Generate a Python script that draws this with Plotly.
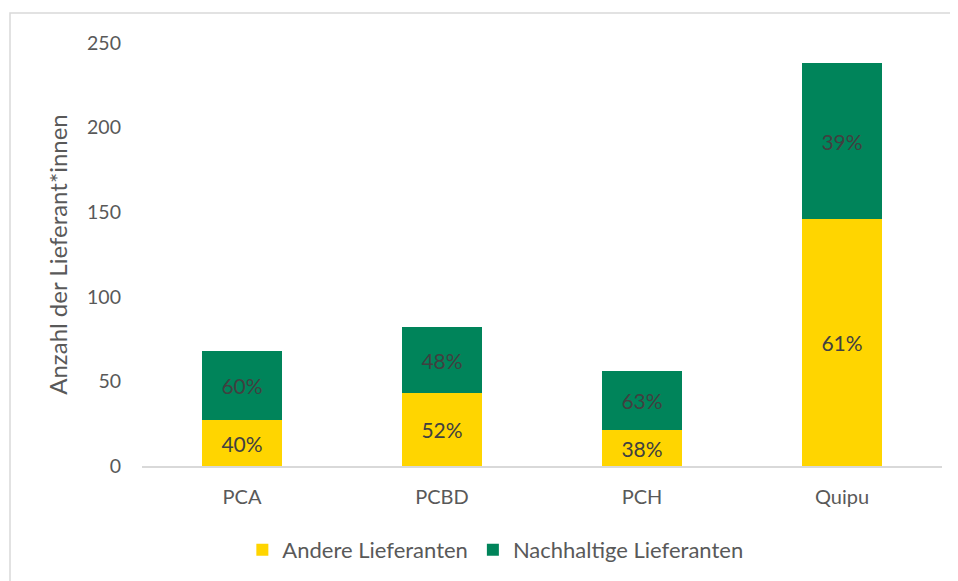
import plotly.graph_objects as go

categories = ["PCA", "PCBD", "PCH", "Quipu"]
andere = [27, 43, 21, 146]
nachhaltig = [41, 39, 35, 92]
andere_pct = ["40%", "52%", "38%", "61%"]
nachhaltig_pct = ["60%", "48%", "63%", "39%"]

FONT = "Lato"
GREY = "#595959"
LABEL = "#404040"

fig = go.Figure()
fig.add_trace(go.Bar(
    x=categories, y=andere, name="Andere Lieferanten",
    marker=dict(color="#FFD500", line=dict(width=0)),
    text=andere_pct, textposition="inside", insidetextanchor="middle",
    textfont=dict(color=LABEL, size=21, family=FONT),
))
fig.add_trace(go.Bar(
    x=categories, y=nachhaltig, name="Nachhaltige Lieferanten",
    marker=dict(color="#00845A", line=dict(width=0)),
    text=nachhaltig_pct, textposition="inside", insidetextanchor="middle",
    textfont=dict(color=LABEL, size=21, family=FONT),
))

W, H = 950, 573
L, R, T, B = 134, 16, 35, 115
PW, PH = W - L - R, H - T - B

fig.update_layout(
    barmode="stack",
    bargap=0.6,
    width=W, height=H,
    margin=dict(l=L, r=R, t=T, b=B, autoexpand=False),
    paper_bgcolor="white", plot_bgcolor="white",
    font=dict(family=FONT, size=20, color=GREY),
    uniformtext=dict(mode="show", minsize=10),
    showlegend=True,
    legend=dict(orientation="h", xref="container", x=0.513, xanchor="center",
                yref="container", y=31 / H, yanchor="middle",
                font=dict(size=22, color=GREY), traceorder="normal",
                itemsizing="constant"),
    xaxis=dict(showline=True, linecolor="#D9D9D9", linewidth=1.5, ticks="",
               ticklabelstandoff=12,
               tickfont=dict(size=20, color=GREY)),
    yaxis=dict(range=[0, 250], dtick=50, showgrid=False, zeroline=False,
               showline=False, ticks="", ticklabelstandoff=20,
               tickfont=dict(size=19.5, color=GREY),
               title=dict(text="Anzahl der Lieferant*innen", standoff=12,
                          font=dict(size=24, color=GREY))),
    shapes=[dict(type="rect", xref="paper", yref="paper",
                 x0=(2 - L) / PW, x1=1.2, y0=-1, y1=1 + (T - 5) / PH,
                 line=dict(color="#D9D9D9", width=1.5), fillcolor="rgba(0,0,0,0)",
                 layer="below")],
)

fig.write_html("out.html")
